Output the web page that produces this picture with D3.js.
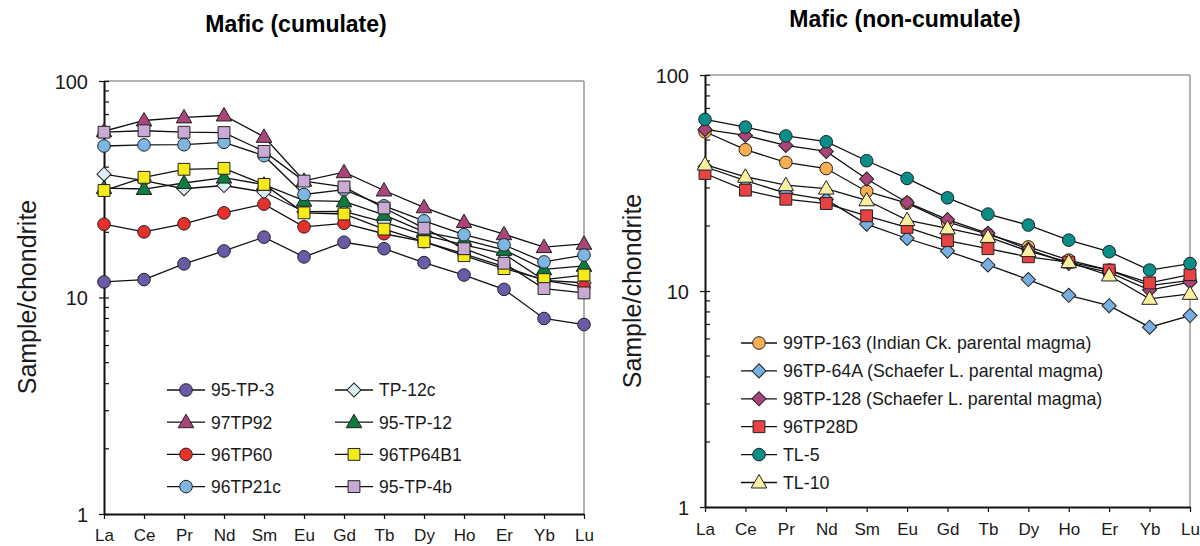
<!DOCTYPE html>
<html><head><meta charset="utf-8">
<script src="https://cdn.jsdelivr.net/npm/d3@7"></script>
<style>
body{margin:0;background:#fff;}
svg text{font-family:"Liberation Sans",Arial,sans-serif;fill:#1a1a1a;}
</style></head>
<body><svg id="c" width="1200" height="546"></svg>
<script>
const categories = ["La","Ce","Pr","Nd","Sm","Eu","Gd","Tb","Dy","Ho","Er","Yb","Lu"];
const yTicks = [1, 10, 100];

// Left panel: Mafic (cumulate)
const leftNames = ["95-TP-3","TP-12c","97TP92","95-TP-12","96TP60","96TP64B1","96TP21c","95-TP-4b"];
const v95TP3    = [11.8, 12.1, 14.3, 16.4, 19.0, 15.4, 18.0, 16.8, 14.5, 12.7, 10.9, 8.0, 7.5];
const vTP12c    = [37.1, 34.7, 31.8, 32.9, 30.7, 24.9, 25.0, 22.3, 19.4, 17.5, 15.9, 12.0, 11.7];
const v97TP92   = [58.6, 65.7, 67.9, 69.3, 55.2, 34.6, 37.9, 31.2, 26.1, 22.3, 19.6, 17.1, 17.7];
const v95TP12   = [32.0, 31.7, 33.8, 35.8, 33.2, 28.0, 27.8, 24.1, 20.1, 18.5, 16.6, 13.5, 14.0];
const v96TP60   = [21.8, 20.1, 21.9, 24.6, 27.0, 21.2, 22.0, 19.7, 18.1, 15.9, 13.9, 12.0, 11.2];
const v96TP64B1 = [31.2, 35.9, 39.1, 39.5, 33.3, 24.6, 24.3, 20.7, 18.1, 15.6, 13.6, 12.1, 12.7];
const v96TP21c  = [50.1, 50.7, 50.8, 52.1, 45.2, 29.9, 31.5, 26.5, 22.6, 19.5, 17.5, 14.6, 15.7];
const v95TP4b   = [58.0, 58.9, 58.0, 57.8, 47.3, 34.5, 32.4, 25.9, 20.9, 16.8, 14.4, 11.0, 10.5];

// Right panel: Mafic (non-cumulate)
const rightNames = ["99TP-163 (Indian Ck. parental magma)","96TP-64A (Schaefer L. parental magma)","98TP-128 (Schaefer L. parental magma)","96TP28D","TL-5","TL-10"];
const v99TP163 = [54.6, 45.1, 39.4, 36.9, 28.9, 25.5, 20.9, 18.3, 16.0, 13.9, 12.5, 10.6, 11.2];
const v96TP64A = [37.6, 32.4, 28.4, 26.5, 20.4, 17.5, 15.3, 13.2, 11.3, 9.55, 8.55, 6.8, 7.7];
const v98TP128 = [56.0, 52.5, 47.2, 44.3, 33.0, 25.7, 21.4, 18.5, 15.6, 13.4, 12.2, 10.1, 11.0];
const v96TP28D = [35.0, 29.3, 26.6, 25.4, 22.3, 19.7, 17.1, 15.7, 14.4, 13.6, 12.5, 10.9, 11.9];
const vTL5     = [62.3, 57.4, 52.2, 49.1, 40.1, 33.2, 27.0, 22.7, 20.2, 17.2, 15.2, 12.5, 13.4];
const vTL10    = [38.5, 33.8, 30.9, 29.8, 26.3, 21.3, 19.5, 17.8, 15.3, 13.6, 11.8, 9.2, 9.7];

const svg = d3.select("#c");

const symMap = {circle: d3.symbolCircle, square: d3.symbolSquare, triangle: d3.symbolTriangle, diamond: d3.symbolSquare};
const symSize = {circle: 125, square: 140, triangle: 105, diamond: 100};

function marker(g, shape, fill, x, y) {
  g.append("path")
    .attr("d", d3.symbol().type(symMap[shape]).size(symSize[shape])())
    .attr("transform", `translate(${x},${y})` + (shape === "diamond" ? " rotate(45)" : "") + (shape === "triangle" ? " translate(0,1)" : ""))
    .attr("fill", fill).attr("stroke", "#222").attr("stroke-width", 1);
}

function drawPanel(cfg) {
  const x = d3.scalePoint().domain(categories).range([cfg.x0, cfg.x1]);
  const y = d3.scaleLog().domain([1, 100]).range([cfg.yb, cfg.yt]);
  const g = svg.append("g");

  // frame (top and right, gray)
  g.append("line").attr("x1", cfg.x0).attr("x2", cfg.x1).attr("y1", cfg.yt).attr("y2", cfg.yt).attr("stroke", "#999").attr("stroke-width", 1.5);
  g.append("line").attr("x1", cfg.x1).attr("x2", cfg.x1).attr("y1", cfg.yt).attr("y2", cfg.yb).attr("stroke", "#999").attr("stroke-width", 1.5);

  // minor ticks inside
  const minor = [];
  for (let d = 1; d < 100; d *= 10) for (let k = 2; k <= 9; k++) minor.push(d * k);
  g.selectAll(".mt").data(minor).join("line")
    .attr("x1", cfg.x0).attr("x2", cfg.x0 + 5)
    .attr("y1", d => y(d)).attr("y2", d => y(d)).attr("stroke", "#111").attr("stroke-width", 1.2);

  // y axis with major ticks
  const ya = d3.axisLeft(y).tickValues(yTicks).tickFormat(d3.format("d")).tickSizeInner(5).tickSizeOuter(0).tickPadding(8);
  const yg = g.append("g").attr("transform", `translate(${cfg.x0},0)`).call(ya);
  yg.select(".domain").attr("stroke", "#111").attr("stroke-width", 2);
  yg.selectAll(".tick line").attr("x2", 5).attr("x1", -5).attr("stroke", "#111").attr("stroke-width", 1.2);
  yg.selectAll(".tick text").attr("font-size", 20).attr("fill", "#1a1a1a").attr("dy", "0.35em").attr("x", -16)
    .style("font-family", '"Liberation Sans",Arial,sans-serif');

  // x axis
  const xa = d3.axisBottom(x).tickSizeInner(5).tickSizeOuter(0).tickPadding(8);
  const xg = g.append("g").attr("transform", `translate(0,${cfg.yb})`).call(xa);
  xg.select(".domain").attr("stroke", "#111").attr("stroke-width", 2);
  xg.selectAll(".tick line").attr("stroke", "#111").attr("stroke-width", 1.2);
  xg.selectAll(".tick text").attr("font-size", 17).attr("fill", "#1a1a1a").attr("y", cfg.xlabDy).attr("dy", 0)
    .style("font-family", '"Liberation Sans",Arial,sans-serif');

  // title
  g.append("text").attr("x", cfg.titleX).attr("y", cfg.titleY).attr("text-anchor", "middle")
    .attr("font-size", 23).attr("font-weight", "bold").style("fill", "#000").text(cfg.title);
  // y label
  g.append("text").attr("transform", `translate(${cfg.ylabX},${cfg.ylabY}) rotate(-90)`).attr("text-anchor", "middle")
    .attr("font-size", 25).text("Sample/chondrite");

  // series
  const line = d3.line().x((d, i) => x(categories[i])).y(d => y(d));
  cfg.series.forEach(s => {
    g.append("path").attr("d", line(s.values)).attr("fill", "none").attr("stroke", "#111").attr("stroke-width", 1.3);
    s.values.forEach((v, i) => marker(g, s.shape, s.fill, x(categories[i]), y(v)));
  });

  // legend
  cfg.series.forEach((s, i) => {
    const L = cfg.legend(i);
    g.append("line").attr("x1", L.x).attr("x2", L.x + cfg.legLine).attr("y1", L.y).attr("y2", L.y).attr("stroke", "#111").attr("stroke-width", 1.3);
    marker(g, s.shape, s.fill, L.x + cfg.legLine / 2, L.y);
    g.append("text").attr("x", L.x + cfg.legLine + 6).attr("y", L.y).attr("dy", "0.36em")
      .attr("font-size", cfg.legFont).text(s.name);
  });
}

drawPanel({
  x0: 104, x1: 584, yt: 81, yb: 514,
  title: "Mafic (cumulate)", titleX: 296, titleY: 32,
  ylabX: 36, ylabY: 297, xlabDy: 27,
  legLine: 38, legFont: 17.5,
  legend: i => ({x: i % 2 === 0 ? 167 : 335, y: 390 + Math.floor(i / 2) * 32.2}),
  series: [
    {name: leftNames[0], values: v95TP3, shape: "circle", fill: "#6a5aa8"},
    {name: leftNames[1], values: vTP12c, shape: "diamond", fill: "#dbeff6"},
    {name: leftNames[2], values: v97TP92, shape: "triangle", fill: "#a8467a"},
    {name: leftNames[3], values: v95TP12, shape: "triangle", fill: "#0d7a3e"},
    {name: leftNames[4], values: v96TP60, shape: "circle", fill: "#e8302a"},
    {name: leftNames[5], values: v96TP64B1, shape: "square", fill: "#f7ea1a"},
    {name: leftNames[6], values: v96TP21c, shape: "circle", fill: "#7fb5e2"},
    {name: leftNames[7], values: v95TP4b, shape: "square", fill: "#c9aad4"}
  ]
});

drawPanel({
  x0: 705, x1: 1190, yt: 75, yb: 507,
  title: "Mafic (non-cumulate)", titleX: 905, titleY: 27,
  ylabX: 641, ylabY: 291, xlabDy: 28,
  legLine: 36, legFont: 17.8,
  legend: i => ({x: 741, y: 343 + i * 27.9}),
  series: [
    {name: rightNames[0], values: v99TP163, shape: "circle", fill: "#f9ae52"},
    {name: rightNames[1], values: v96TP64A, shape: "diamond", fill: "#78aee0"},
    {name: rightNames[2], values: v98TP128, shape: "diamond", fill: "#a8467a"},
    {name: rightNames[3], values: v96TP28D, shape: "square", fill: "#e84343"},
    {name: rightNames[4], values: vTL5, shape: "circle", fill: "#0a8d88"},
    {name: rightNames[5], values: vTL10, shape: "triangle", fill: "#fbf0a0"}
  ]
});
</script></body></html>
